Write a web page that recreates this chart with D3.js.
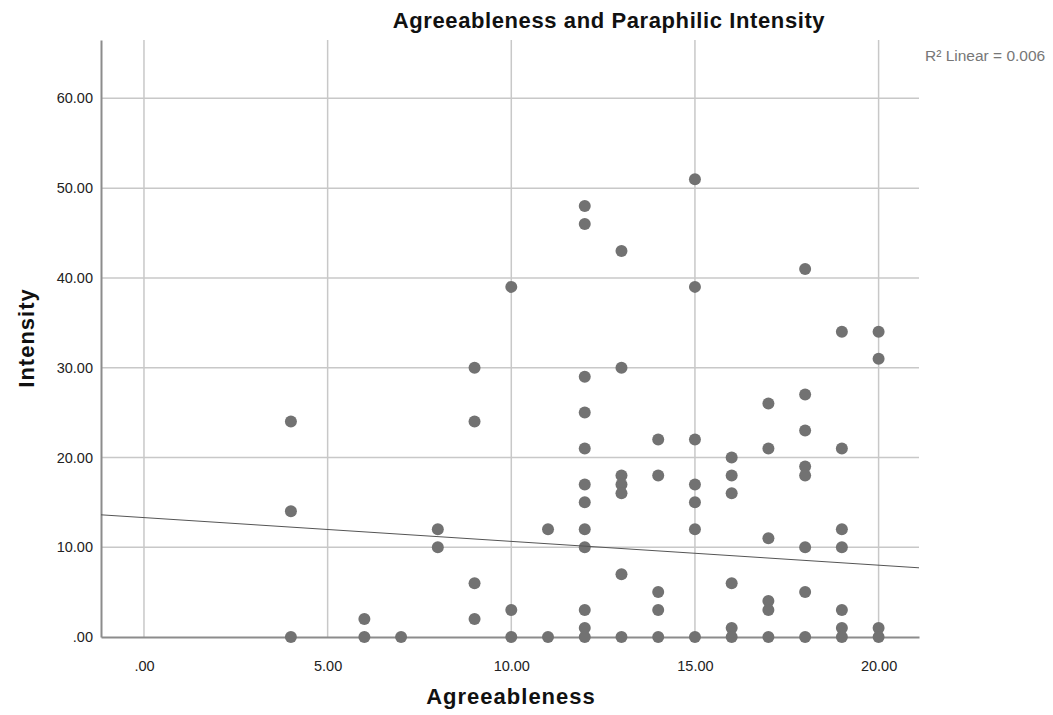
<!DOCTYPE html>
<html><head><meta charset="utf-8">
<script src="https://cdn.jsdelivr.net/npm/d3@7"></script>
<style>body{margin:0;background:#fff;font-family:"Liberation Sans",Arial,sans-serif;}</style>
</head><body>
<svg id="c" width="1053" height="715"></svg>
<script>
const agree = [4,4,4, 6,6, 7, 8,8, 9,9,9,9, 10,10,10, 11,11,
 12,12,12,12,12,12,12,12,12,12,12,12,
 13,13,13,13,13,13,13,
 14,14,14,14,14,
 15,15,15,15,15,15,15,
 16,16,16,16,16,16,
 17,17,17,17,17,17,
 18,18,18,18,18,18,18,18,
 19,19,19,19,19,19,19,
 20,20,20,20];
const intensity = [24,14,0, 2,0, 0, 12,10, 30,24,6,2, 39,3,0, 12,0,
 48,46,29,25,21,17,15,12,10,3,1,0,
 43,30,18,17,16,7,0,
 22,18,5,3,0,
 51,39,22,17,15,12,0,
 20,18,16,6,1,0,
 26,21,11,4,3,0,
 41,27,23,19,18,10,5,0,
 34,21,12,10,3,1,0,
 34,31,1,0];
const xTicks = [0,5,10,15,20];
const yTicks = [0,10,20,30,40,50,60];
const fitIntercept = 13.3, fitSlope = -0.265;
const title = "Agreeableness and Paraphilic Intensity";
const xTitle = "Agreeableness", yTitle = "Intensity";
const r2Label = "R\u00B2 Linear = 0.006";

const svg = d3.select("#c");
const L=101, R=919, T=40, B=637;
const x = d3.scaleLinear().domain([-1.17, 21.1]).range([L,R]);
const y = d3.scaleLinear().domain([0, 66.5]).range([B,T]);
const fmt = v => v===0 ? ".00" : d3.format(".2f")(v);

// gridlines
svg.append("g").selectAll("line").data(xTicks).join("line")
  .attr("x1",d=>x(d)).attr("x2",d=>x(d)).attr("y1",T).attr("y2",B)
  .attr("stroke","#c8c8c8").attr("stroke-width",1.5);
svg.append("g").selectAll("line").data(yTicks.filter(d=>d>0)).join("line")
  .attr("x1",L).attr("x2",R).attr("y1",d=>y(d)).attr("y2",d=>y(d))
  .attr("stroke","#c8c8c8").attr("stroke-width",1.5);

// axes
const xa = svg.append("g").attr("transform",`translate(0,${B})`)
  .call(d3.axisBottom(x).tickValues(xTicks).tickFormat(fmt).tickSize(0).tickPadding(24));
xa.select(".domain").attr("stroke","#8c8c8c").attr("stroke-width",2);
const ya = svg.append("g").attr("transform",`translate(${L},0)`)
  .call(d3.axisLeft(y).tickValues(yTicks).tickFormat(fmt).tickSize(0).tickPadding(8));
ya.select(".domain").attr("stroke","#8c8c8c").attr("stroke-width",2);
svg.selectAll(".tick text").attr("font-size",14.5).attr("fill","#222")
  .attr("font-family","'Liberation Sans',Arial,sans-serif");

// points
svg.append("g").selectAll("circle").data(agree.map((a,i)=>[a,intensity[i]])).join("circle")
  .attr("cx",d=>x(d[0])).attr("cy",d=>y(d[1])).attr("r",6).attr("fill","#727272");

// fit line
svg.append("line")
  .attr("x1",x(-1.17)).attr("y1",y(fitIntercept+fitSlope*-1.17))
  .attr("x2",x(21.1)).attr("y2",y(fitIntercept+fitSlope*21.1))
  .attr("stroke","#555").attr("stroke-width",1);

// texts
svg.append("text").attr("x",609).attr("y",28).attr("text-anchor","middle")
  .attr("font-size",22).attr("letter-spacing",0.6).attr("font-weight","bold").attr("fill","#111").text(title);
svg.append("text").attr("x",511).attr("y",704).attr("text-anchor","middle")
  .attr("font-size",22).attr("letter-spacing",1).attr("font-weight","bold").attr("fill","#111").text(xTitle);
svg.append("text").attr("transform","translate(34,338) rotate(-90)").attr("text-anchor","middle")
  .attr("font-size",22).attr("letter-spacing",1).attr("font-weight","bold").attr("fill","#111").text(yTitle);
svg.append("text").attr("x",925).attr("y",61).attr("font-size",15.5).attr("fill","#777").text(r2Label);
</script>
</body></html>
